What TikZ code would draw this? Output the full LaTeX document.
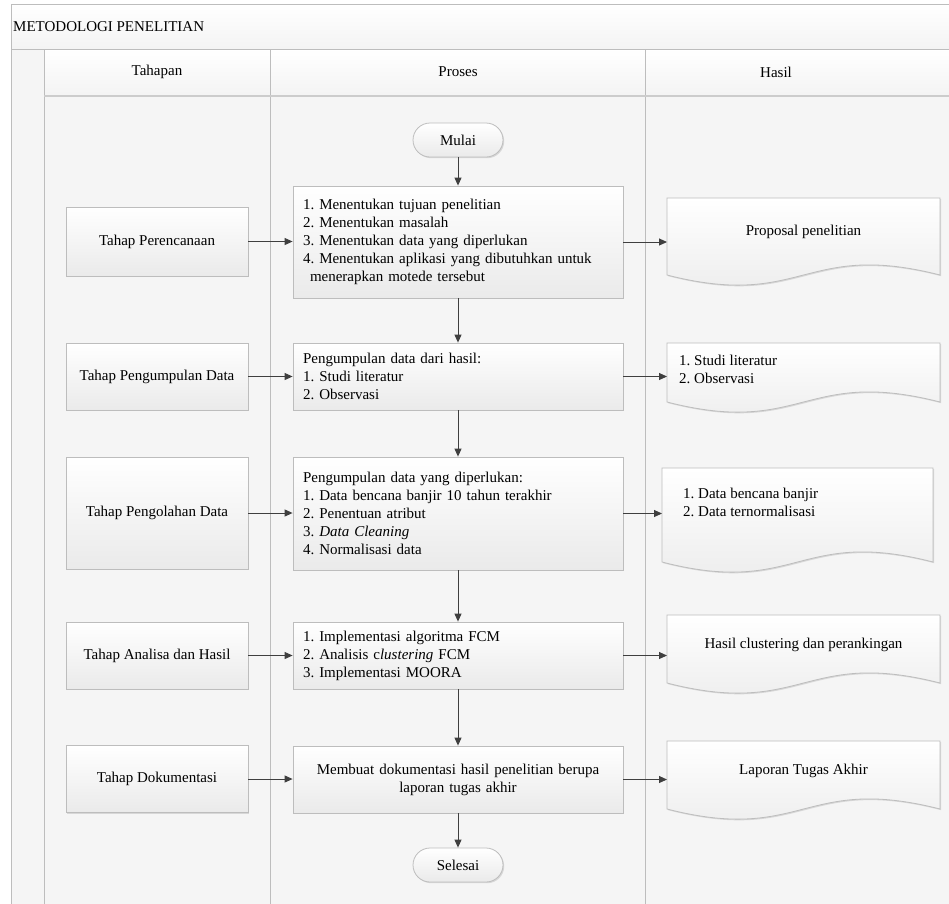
\documentclass[tikz,border=0pt]{standalone}
\usepackage{fontspec}
\setmainfont{Liberation Serif}
\usetikzlibrary{shadows,arrows.meta}
\definecolor{bordc}{HTML}{BDBDBD}
\definecolor{arrc}{HTML}{3F3F3F}
\definecolor{lanec}{HTML}{F5F5F5}
\definecolor{boxbot}{HTML}{EAEAEA}
\newcommand\hasilshape[4]{%
  \path[docshape] (#1,#2) -- (#3,#2) -- (#3,#4)
    .. controls ({(#1+#3)/2},{#4-35}) and ({(#1+#3)/2},{#4+35}) .. (#1,#4) -- cycle;}
\frenchspacing
\begin{document}
\begin{tikzpicture}[x=1pt,y=-1pt,
  every node/.style={font=\fontsize{15}{18}\selectfont\frenchspacing, text=black},
  band/.style={draw=bordc, line width=0.8pt, top color=white, bottom color=gray!9},
  lane/.style={draw=bordc, line width=0.8pt, fill=lanec},
  boxshadow/.style={drop shadow={shadow xshift=1.2pt, shadow yshift=-1.2pt, opacity=0.25, fill=gray}},
  tahapbox/.style={draw=bordc, line width=0.8pt, top color=white, bottom color=boxbot, boxshadow,
    minimum width=182pt, inner sep=0pt, align=center},
  procbox/.style={draw=bordc, line width=0.8pt, top color=white, bottom color=boxbot, boxshadow,
    minimum width=330pt, text width=310pt, inner xsep=10pt, inner ysep=0pt, align=left},
  termbox/.style={draw=bordc, line width=0.8pt, top color=white, bottom color=boxbot, boxshadow,
    rounded corners=17pt, minimum width=90pt, minimum height=34pt, inner sep=0pt},
  docshape/.style={draw=bordc, line width=0.8pt, top color=white, bottom color=boxbot, boxshadow},
  doctext/.style={inner sep=0pt, align=left},
  arr/.style={draw=arrc, line width=1pt, -{Triangle[length=8pt,width=7pt]}},
]
\useasboundingbox (0,0) rectangle (949,903);
% swimlane frame
\path[lane] (11,49) rectangle (44,910);
\path[lane] (44,95) rectangle (270,910);
\path[lane] (270,95) rectangle (645,910);
\path[lane] (645,95) rectangle (960,910);
\path[band] (11,4) rectangle (960,49);
\path[band] (44,49) rectangle (270,95);
\path[band] (270,49) rectangle (645,95);
\path[band] (645,49) rectangle (960,95);
\draw[gray!40, line width=1.5pt] (44,96) -- (960,96);
\node[anchor=west, inner sep=0pt] (judul) at (13,27) {METODOLOGI PENELITIAN};
\node (htahap) at (157,72) {Tahapan};
\node (hproses) at (458,72) {Proses};
\node (hhasil) at (776,72) {Hasil};

% terminators
\node[termbox] (mulai) at (458,140) {Mulai};
\node[termbox] (selesai) at (458,865) {Selesai};

% tahapan boxes
\node[tahapbox, minimum height=69pt] (t1) at (157,241.5) {Tahap Perencanaan};
\node[tahapbox, minimum height=67pt] (t2) at (157,376.5) {Tahap Pengumpulan Data};
\node[tahapbox, minimum height=112pt] (t3) at (157,513) {Tahap Pengolahan Data};
\node[tahapbox, minimum height=67pt] (t4) at (157,655.5) {Tahap Analisa dan Hasil};
\node[tahapbox, minimum height=67pt] (t5) at (157,779) {Tahap Dokumentasi};

% process boxes
\node[procbox, minimum height=112pt] (p1) at (458,242) {1. Menentukan tujuan penelitian\\2. Menentukan masalah\\3. Menentukan data yang diperlukan\\4. Menentukan aplikasi yang dibutuhkan untuk\\\hspace*{7pt}menerapkan motede tersebut};
\node[procbox, minimum height=67pt] (p2) at (458,376.5) {Pengumpulan data dari hasil:\\1. Studi literatur\\2. Observasi};
\node[procbox, minimum height=113pt] (p3) at (458,513.5) {Pengumpulan data yang diperlukan:\\1. Data bencana banjir 10 tahun terakhir\\2. Penentuan atribut\\3. \textit{Data Cleaning}\\4. Normalisasi data};
\node[procbox, minimum height=67pt] (p4) at (458,655.5) {1. Implementasi algoritma FCM\\2. Analisis c\textit{lustering} FCM\\3. Implementasi MOORA};
\node[procbox, minimum height=67pt, align=center] (p5) at (458,779.5) {Membuat dokumentasi hasil penelitian berupa\\laporan tugas akhir};

% hasil documents
\hasilshape{667}{198}{940}{275}
\hasilshape{667}{343}{940}{402}
\hasilshape{662}{468}{933}{562}
\hasilshape{667}{615}{940}{683}
\hasilshape{667}{741}{940}{809}
\coordinate (h1) at (667,236);
\coordinate (h2) at (667,372);
\coordinate (h3) at (662,515);
\coordinate (h4) at (667,649);
\coordinate (h5) at (667,775);
\node[doctext, align=center] (d1) at (803.5,232) {Proposal penelitian};
\node[doctext, anchor=west] (d2) at (679,369.5) {1. Studi literatur\\2. Observasi};
\node[doctext, anchor=west] (d3) at (683,502.5) {1. Data bencana banjir\\2. Data ternormalisasi};
\node[doctext, align=center] (d4) at (803.5,645) {Hasil clustering dan perankingan};
\node[doctext, align=center] (d5) at (803.5,771) {Laporan Tugas Akhir};

% connectors
\draw[arr] (mulai) -- (p1);
\draw[arr] (p1) -- (p2);
\draw[arr] (p2) -- (p3);
\draw[arr] (p3) -- (p4);
\draw[arr] (p4) -- (p5);
\draw[arr] (p5) -- (selesai);
\foreach \i in {1,...,5}{
  \draw[arr] (t\i.east) -- (t\i.east -| p\i.west);
  \draw[arr] (p\i.east) -- (p\i.east -| h\i);
}
\end{tikzpicture}
\end{document}
